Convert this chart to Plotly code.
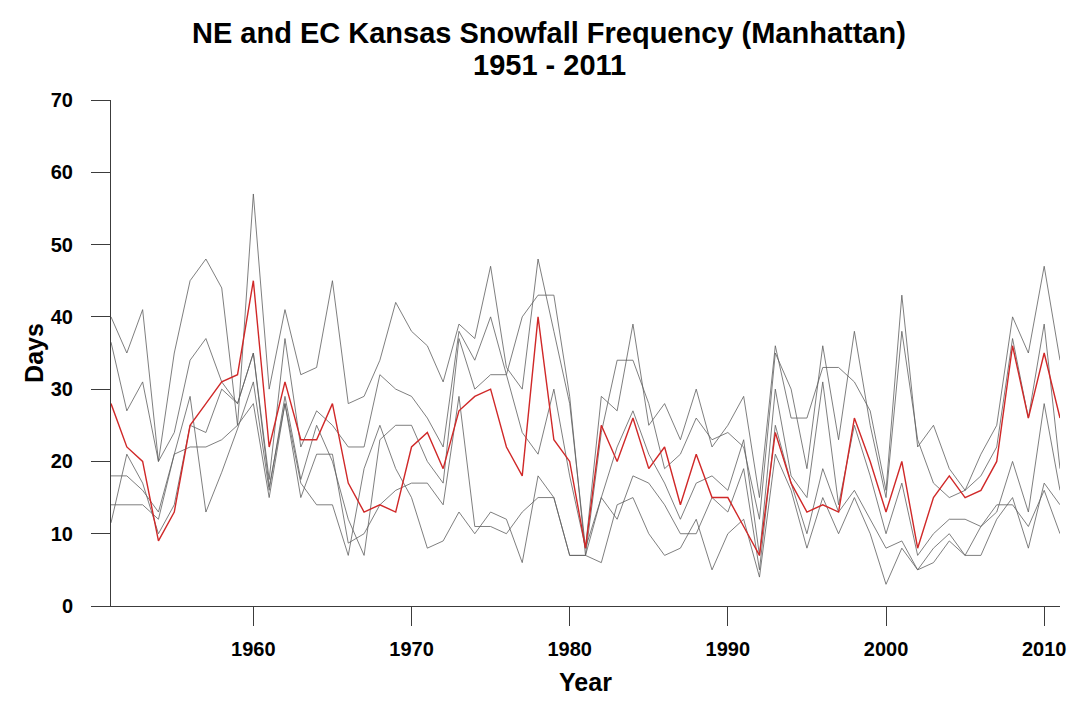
import plotly.graph_objects as go

years = list(range(1951, 2012))

# Manhattan station (highlighted series)
manhattan = [28, 22, 20, 9, 13, 25, 28, 31, 32, 45,
             22, 31, 23, 23, 28, 17, 13, 14, 13, 22,
             24, 19, 27, 29, 30, 22, 18, 40, 23, 20,
             8, 25, 20, 26, 19, 22, 14, 21, 15, 15,
             11, 7, 24, 17, 13, 14, 13, 26, 20, 13,
             20, 8, 15, 18, 15, 16, 20, 36, 26, 35, 26]

# Other NE / EC Kansas stations
station_a = [40, 35, 41, 20, 35, 45, 48, 44, 25, 57,
             30, 41, 32, 33, 45, 28, 29, 34, 42, 38,
             36, 31, 39, 37, 47, 33, 30, 48, 38, 28,
             8, 29, 27, 39, 25, 28, 23, 30, 22, 25,
             29, 15, 36, 26, 26, 33, 33, 31, 27, 16,
             43, 22, 25, 19, 16, 21, 25, 40, 35, 47, 34]
station_b = [36.5, 27, 31, 20, 24, 34, 37, 31, 28, 35,
             17.5, 37, 22, 27, 25, 22, 22, 32, 30, 29,
             26, 22, 38, 34, 40, 32, 40, 43, 43, 29,
             7, 24, 34, 34, 28, 19, 21, 26, 23, 24,
             22, 12, 35, 30, 19, 36, 23, 38, 25, 15,
             38, 23, 17, 15, 16, 18, 22, 37, 26, 39, 19]
station_c = [18, 18, 16, 13, 21, 29, 13, 18.5, 24.5, 31,
             16, 29, 17.5, 25, 20, 12, 7, 23, 25, 25,
             20, 17, 37, 30, 32, 32, 24, 21, 30, 18,
             8, 15, 22, 27, 21, 17, 12, 17, 18, 16,
             23, 7, 30, 18, 15, 31, 14, 25, 18, 10,
             17, 7, 10, 12, 12, 11, 13, 20, 13, 28, 16]
station_d = [14, 14, 14, 12, 21, 22, 22, 23, 25, 28,
             15, 28, 15, 21, 21, 8.7, 10, 14, 16, 17,
             17, 14, 29, 11, 11, 10, 13, 15, 15, 7,
             7, 15, 12, 18, 17, 14, 10, 10, 15, 13,
             19, 5, 25, 17, 10, 19, 13, 16, 12, 8,
             9, 5, 6, 9, 7, 7, 12, 15, 8, 17, 14]
station_e = [11.5, 21, 17, 10, 14, 25, 24, 30, 28, 35,
             16.5, 28, 17, 14, 14, 7, 19, 25, 19, 15,
             8, 9, 13, 10, 13, 12, 6, 18, 15, 7,
             7, 6, 14, 15, 10, 7, 8, 12, 5, 10,
             12, 4, 21, 16, 8, 15, 10, 15, 10, 3,
             8, 5, 8, 10, 7, 11, 14, 14, 11, 16, 10]

x_ticks = [1960, 1970, 1980, 1990, 2000, 2010]
y_ticks = [0, 10, 20, 30, 40, 50, 60, 70]

FONT = "Liberation Sans, Arial, sans-serif"
AXIS_COLOR = "#3c3c3c"

fig = go.Figure()
for series in [station_a, station_b, station_c, station_d, station_e]:
    fig.add_trace(go.Scatter(
        x=years, y=series, mode="lines",
        line=dict(color="rgba(95,95,95,0.8)", width=1),
        showlegend=False, hoverinfo="skip"))

fig.add_trace(go.Scatter(
    x=years, y=manhattan, mode="lines",
    line=dict(color="#d02828", width=1.4),
    showlegend=False, name="Manhattan"))

# Two-line bold title
fig.add_annotation(text="<b>NE and EC Kansas Snowfall Frequency (Manhattan)</b>",
                   xref="paper", yref="paper", x=0.462, y=1.0, yshift=67,
                   xanchor="center", yanchor="middle", showarrow=False,
                   font=dict(size=29, family=FONT, color="black"))
fig.add_annotation(text="<b>1951 - 2011</b>",
                   xref="paper", yref="paper", x=0.462, y=1.0, yshift=35,
                   xanchor="center", yanchor="middle", showarrow=False,
                   font=dict(size=29, family=FONT, color="black"))

fig.update_layout(
    width=1078, height=708,
    margin=dict(l=111, r=13, t=100, b=102),
    paper_bgcolor="white", plot_bgcolor="white",
    font=dict(family=FONT, color="black"),
    xaxis=dict(
        range=[1951, 2011], tickvals=x_ticks, ticktext=[str(v) for v in x_ticks],
        showgrid=False, zeroline=False,
        showline=True, linecolor=AXIS_COLOR, linewidth=1,
        ticks="outside", ticklen=19, tickcolor=AXIS_COLOR, tickwidth=1,
        ticklabelstandoff=6,
        tickfont=dict(size=20, family=FONT, color="black", weight="bold"),
        title=dict(text="<b>Year</b>", font=dict(size=25, family=FONT), standoff=14)),
    yaxis=dict(
        range=[0, 70], tickvals=y_ticks,
        showgrid=False, zeroline=False,
        showline=True, linecolor=AXIS_COLOR, linewidth=1,
        ticks="outside", ticklen=19, tickcolor=AXIS_COLOR, tickwidth=1,
        ticklabelstandoff=14,
        tickfont=dict(size=20, family=FONT, color="black", weight="bold"),
        title=dict(text="<b>Days</b>", font=dict(size=25, family=FONT), standoff=0)),
)

fig.write_html("out.html")
